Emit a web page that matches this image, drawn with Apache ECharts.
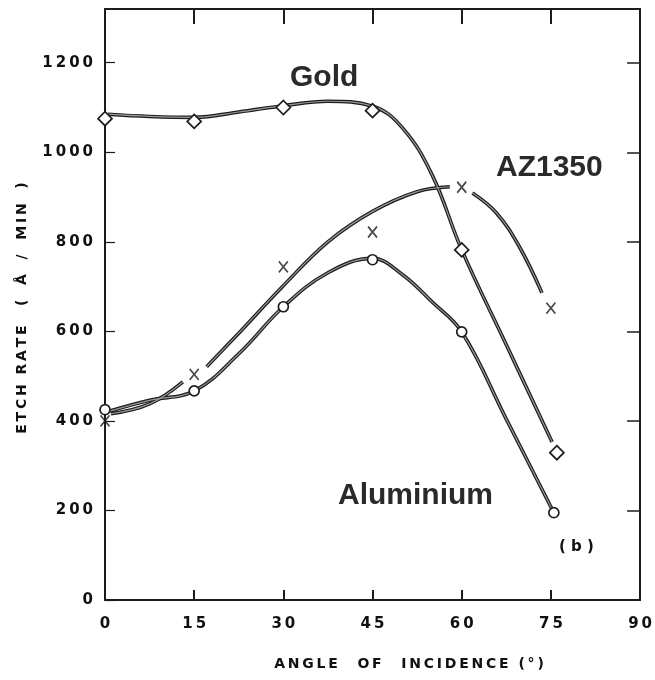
<!DOCTYPE html>
<html>
<head>
<meta charset="utf-8">
<script src="https://cdn.jsdelivr.net/npm/echarts@6/dist/echarts.min.js"></script>
<style>
  html, body { margin: 0; padding: 0; background: #ffffff; }
  #chart { width: 655px; height: 680px; }
</style>
</head>
<body>
<div id="chart"></div>
<script>
// Axis ticks
const xTicks = [0, 15, 30, 45, 60, 75, 90];
const yTicks = [0, 200, 400, 600, 800, 1000, 1200];

// Measured etch rates (angle in degrees, rate in Å/min)
const goldPts = [[0, 1075], [15, 1069], [30, 1100], [45, 1093], [60, 782], [76, 329]];
const azPts   = [[0, 400], [15, 504], [30, 744], [45, 822], [60, 922], [75, 652]];
const alPts   = [[0, 425], [15, 467], [30, 655], [45, 760], [60, 599], [75.5, 195]];

// Hand-drawn trend curves through the measurements
const goldCurve = [[0.5, 1085], [7.5, 1080], [15, 1078], [22.5, 1090], [30, 1104], [37.5, 1114],
                   [45, 1103], [50, 1055], [55, 950], [60, 782], [67.5, 570], [75.2, 353]];
const azCurveA = [[1, 416], [7.5, 438], [13.1, 487]];
const azCurveB = [[17.1, 521], [22.5, 596], [30, 702], [37.5, 800], [45, 868], [52.5, 912], [58, 923]];
const azCurveC = [[61.8, 909], [65.8, 865], [69.7, 789], [73.5, 686]];
const alCurve = [[0.8, 422], [7.5, 446], [15, 467], [22.5, 550], [30, 655], [37.5, 731], [45, 763],
                 [50, 727], [55, 666], [60, 599], [67.5, 404], [75.5, 195]];

const INK = '#1c1c1c';

// Each curve is drawn as a dark tube with a lighter core
function tube(data) {
  return [
    { type: 'line', data: data, smooth: 0.4, showSymbol: false, silent: true, z: 2,
      lineStyle: { color: INK, width: 3.6 } },
    { type: 'line', data: data, smooth: 0.4, showSymbol: false, silent: true, z: 3,
      lineStyle: { color: '#9a9a9a', width: 1.2 } }
  ];
}

function markers(data, symbol, size) {
  return { type: 'scatter', data: data, symbol: symbol, symbolSize: size, z: 5,
    itemStyle: { color: '#ffffff', borderColor: INK, borderWidth: 1.7, opacity: 1 } };
}

const tickFont = { color: '#111', fontFamily: 'DejaVu Sans', fontWeight: 'bold', fontSize: 15 };
const spaced = v => String(v).split('').join('\u2009');
const frameLine = { onZero: false, lineStyle: { color: INK, width: 2 } };

const option = {
  animation: false,
  backgroundColor: '#ffffff',
  grid: { left: 105, right: 14, top: 9, bottom: 80 },
  xAxis: [
    { type: 'value', min: 0, max: 90, interval: 15, position: 'bottom',
      axisLine: frameLine,
      axisTick: { inside: true, length: 10, lineStyle: { color: INK, width: 2 } },
      axisLabel: Object.assign({ margin: 17, formatter: v => xTicks.includes(v) ? spaced(v) : '' }, tickFont),
      splitLine: { show: false } },
    { type: 'value', min: 0, max: 90, interval: 15, position: 'top',
      axisLine: frameLine,
      axisTick: { inside: true, length: 15, lineStyle: { color: INK, width: 2 } },
      axisLabel: { show: false }, splitLine: { show: false } }
  ],
  yAxis: [
    { type: 'value', min: 0, max: 1320, interval: 200, position: 'left',
      axisLine: frameLine,
      axisTick: { inside: true, length: 10, lineStyle: { color: INK, width: 1.2 } },
      axisLabel: Object.assign({ margin: 12, showMaxLabel: false,
        formatter: v => yTicks.includes(v) ? spaced(v) : '' }, tickFont),
      splitLine: { show: false } },
    { type: 'value', min: 0, max: 1320, interval: 200, position: 'right',
      axisLine: frameLine,
      axisTick: { inside: true, length: 13, lineStyle: { color: INK, width: 1.5 } },
      axisLabel: { show: false }, splitLine: { show: false } }
  ],
  graphic: [
    { type: 'text', x: 290, y: 78, z: 10,
      style: { text: 'Gold', font: 'bold 30px "Liberation Sans"', fill: '#2a2a2a', verticalAlign: 'middle' } },
    { type: 'text', x: 496, y: 168, z: 10,
      style: { text: 'AZ1350', font: 'bold 30px "Liberation Sans"', fill: '#2a2a2a', verticalAlign: 'middle' } },
    { type: 'text', x: 338, y: 496, z: 10,
      style: { text: 'Aluminium', font: 'bold 30px "Liberation Sans"', fill: '#2a2a2a', verticalAlign: 'middle' } },
    { type: 'text', x: 559, y: 547, z: 10,
      style: { text: '( b )', font: 'bold 15px "DejaVu Sans"', fill: '#111', verticalAlign: 'middle' } },
    { type: 'text', x: 409, y: 664, z: 10,
      style: { text: 'A\u2009N\u2009G\u2009L\u2009E    O\u2009F    I\u2009N\u2009C\u2009I\u2009D\u2009E\u2009N\u2009C\u2009E  (\u2009°\u2009)',
               font: 'bold 14px "DejaVu Sans"', fill: '#111', align: 'center', verticalAlign: 'middle' } },
    { type: 'text', x: 22, y: 308, rotation: Math.PI / 2, z: 10,
      style: { text: 'E\u2009T\u2009C\u2009H  R\u2009A\u2009T\u2009E    (   Å   /   M\u2009I\u2009N   )',
               font: 'bold 14px "DejaVu Sans"', fill: '#111', align: 'center', verticalAlign: 'middle' } }
  ],
  series: [
    ...tube(goldCurve),
    ...tube(azCurveA), ...tube(azCurveB), ...tube(azCurveC),
    ...tube(alCurve),
    markers(goldPts, 'diamond', 14),
    markers(alPts, 'circle', 10),
    { type: 'scatter', data: azPts, symbol: 'path://M0,0L10,12M10,0L0,12', symbolSize: [9, 11], z: 5,
      itemStyle: { color: 'rgba(0,0,0,0)', borderColor: INK, borderWidth: 1.8 } }
  ]
};

echarts.init(document.getElementById('chart'), null, { renderer: 'canvas' }).setOption(option);
</script>
</body>
</html>
